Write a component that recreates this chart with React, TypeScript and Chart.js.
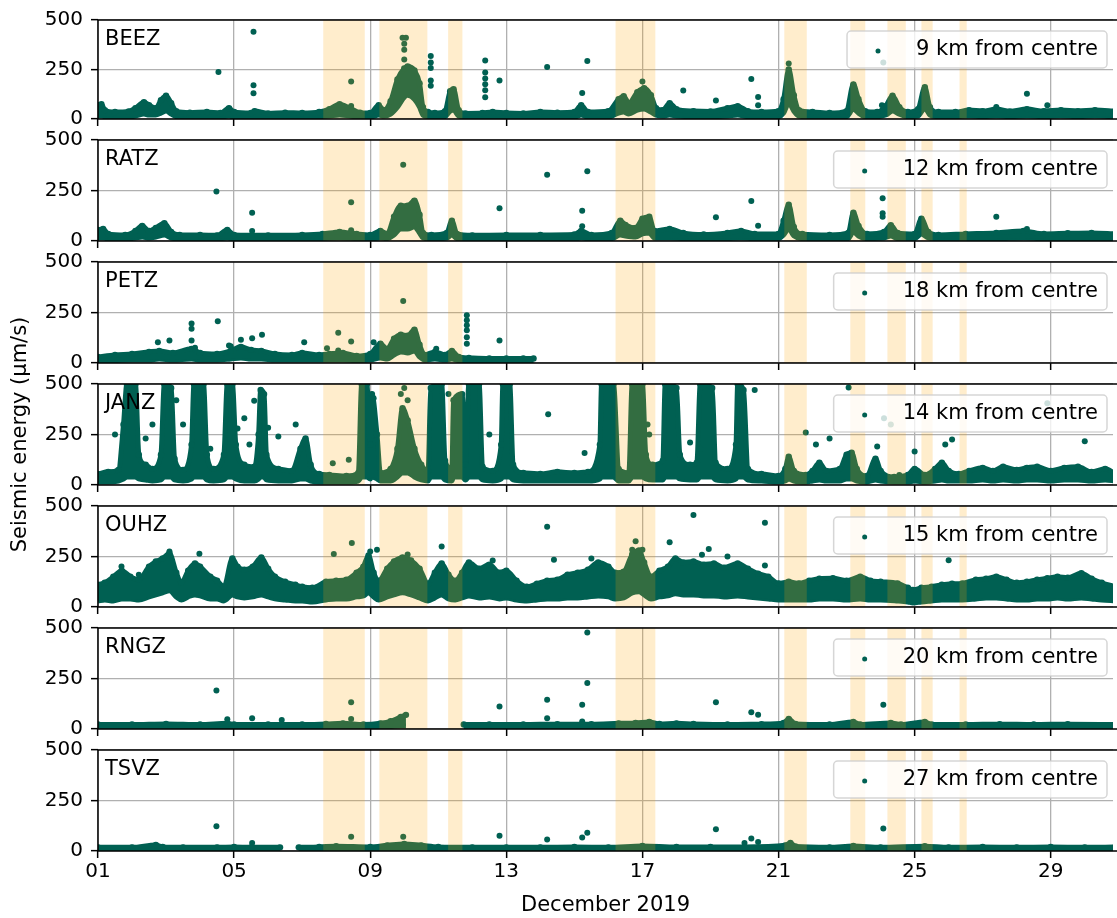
import React, { useEffect, useRef } from 'react';
import { Chart, registerables } from 'chart.js';

Chart.register(...registerables);

// ---------------- data ----------------
const stationNames = ['BEEZ', 'RATZ', 'PETZ', 'JANZ', 'OUHZ', 'RNGZ', 'TSVZ'];
const stationDistances = [
  '9 km from centre',
  '12 km from centre',
  '18 km from centre',
  '14 km from centre',
  '15 km from centre',
  '20 km from centre',
  '27 km from centre',
];
const xTickDays = [1, 5, 9, 13, 17, 21, 25, 29];
const xTickLabels = ['01', '05', '09', '13', '17', '21', '25', '29'];
const yTickValues = [0, 250, 500];
const xAxisTitle = 'December 2019';
const yAxisTitle = 'Seismic energy (µm/s)';

// highlighted periods [startDay, endDay]
const eventSpans: number[][] = [
  [7.62, 8.84], [9.27, 10.68], [11.29, 11.71], [16.21, 17.38], [21.17, 21.83],
  [23.11, 23.55], [24.2, 24.74], [25.2, 25.53], [26.32, 26.53],
];

// dense point cloud envelopes: [day, low, high] ; null marks a data gap
const beezBand: (number | null)[][] = [
  [1.0, 15, 70], [1.1, 15, 75], [1.2, 12, 45], [1.5, 10, 35], [1.9, 10, 38], [2.1, 15, 55], [2.35, 25, 85],
  [2.5, 20, 70], [2.7, 20, 55], [2.85, 30, 95], [3.0, 40, 118], [3.15, 25, 80], [3.3, 12, 40], [3.7, 10, 32],
  [4.2, 10, 35], [4.6, 10, 30], [4.85, 15, 55], [5.0, 10, 35], [5.5, 10, 30], [5.6, 10, 40], [6.0, 10, 28],
  [6.5, 10, 32], [7.0, 10, 30], [7.5, 12, 35], [7.8, 15, 50], [8.1, 20, 75], [8.4, 15, 55], [8.7, 10, 32],
  [9.0, 10, 30], [9.25, 20, 70], [9.4, 15, 45], [9.6, 25, 90], [9.8, 60, 200], [10.0, 110, 255],
  [10.1, 120, 265], [10.3, 100, 245], [10.45, 60, 180], [10.55, 20, 60], [10.7, 12, 35], [10.9, 10, 30],
  [11.2, 12, 40], [11.35, 40, 140], [11.45, 45, 150], [11.6, 15, 45], [11.8, 10, 28], [12.3, 10, 30],
  [12.6, 10, 35], [13.0, 10, 30], [13.5, 10, 28], [14.0, 10, 35], [14.5, 10, 32], [15.0, 10, 35],
  [15.2, 20, 70], [15.4, 10, 35], [16.0, 10, 40], [16.3, 30, 100], [16.45, 35, 115], [16.6, 25, 80],
  [16.85, 45, 135], [17.05, 50, 155], [17.25, 35, 120], [17.4, 20, 55], [17.6, 15, 45], [17.8, 20, 80],
  [18.0, 15, 50], [18.5, 12, 40], [19.0, 12, 38], [19.5, 15, 55], [19.8, 20, 65], [20.1, 12, 40],
  [20.5, 12, 35], [21.0, 12, 40], [21.15, 30, 100], [21.3, 80, 250], [21.45, 40, 120], [21.6, 15, 45],
  [22.0, 10, 35], [22.5, 10, 30], [23.0, 12, 40], [23.2, 50, 175], [23.35, 30, 100], [23.55, 12, 40],
  [23.9, 12, 35], [24.15, 20, 65], [24.35, 40, 118], [24.55, 25, 60], [24.8, 12, 35], [25.1, 15, 50],
  [25.3, 55, 160], [25.45, 20, 60], [25.7, 12, 35], [26.2, 12, 35], [26.6, 15, 45], [27.0, 12, 40],
  [27.4, 15, 50], [27.8, 12, 38], [28.3, 15, 50], [28.8, 12, 40], [29.3, 15, 45], [29.8, 12, 40],
  [30.3, 15, 45], [30.9, 12, 40],
];
const beezPoints: number[][] = [
  [4.54, 238], [5.57, 441], [5.57, 170], [5.57, 130], [8.44, 189], [8.44, 66], [9.95, 410], [10.05, 410],
  [10.0, 380], [10.0, 350], [10.0, 300], [10.78, 318], [10.78, 285], [10.78, 258], [10.78, 194],
  [10.78, 168], [12.38, 296], [12.38, 235], [12.38, 205], [12.38, 175], [12.38, 145], [12.38, 110],
  [12.8, 194], [14.2, 263], [15.23, 131], [15.38, 293], [17.0, 190], [18.2, 144], [19.16, 94], [20.2, 202],
  [20.4, 111], [20.4, 70], [21.3, 280], [24.08, 285], [24.04, 70], [27.4, 61], [28.3, 128], [28.9, 70],
];

const ratzBand: (number | null)[][] = [
  [1.0, 15, 55], [1.15, 15, 60], [1.3, 10, 35], [1.8, 10, 30], [2.1, 15, 50], [2.3, 20, 75], [2.5, 15, 50],
  [2.7, 20, 65], [2.95, 30, 88], [3.15, 15, 45], [3.4, 10, 30], [4.0, 10, 30], [4.5, 10, 28], [4.8, 15, 55],
  [5.0, 10, 30], [6.0, 10, 28], [7.0, 10, 30], [7.6, 12, 35], [8.1, 15, 45], [8.6, 12, 35], [9.0, 10, 30],
  [9.3, 15, 50], [9.5, 12, 35], [9.7, 30, 120], [9.9, 60, 175], [10.1, 60, 175], [10.3, 70, 200],
  [10.45, 40, 130], [10.55, 15, 40], [10.8, 10, 30], [11.25, 15, 40], [11.4, 30, 100], [11.55, 12, 35],
  [12.0, 10, 28], [13.0, 10, 30], [14.0, 10, 30], [15.0, 10, 32], [15.2, 15, 50], [15.5, 10, 30],
  [16.1, 12, 40], [16.35, 30, 100], [16.5, 25, 80], [16.8, 20, 65], [17.0, 35, 110], [17.2, 40, 120],
  [17.35, 15, 50], [17.8, 15, 60], [18.2, 12, 40], [18.8, 10, 32], [19.5, 12, 40], [19.9, 15, 50],
  [20.3, 12, 35], [21.0, 12, 35], [21.15, 30, 100], [21.3, 60, 180], [21.45, 25, 70], [21.7, 12, 35],
  [22.5, 10, 30], [23.05, 12, 40], [23.2, 45, 140], [23.35, 25, 75], [23.6, 12, 35], [24.1, 15, 45],
  [24.3, 25, 78], [24.5, 12, 40], [25.0, 12, 35], [25.2, 35, 110], [25.4, 15, 45], [25.7, 10, 30],
  [26.5, 12, 35], [27.4, 12, 40], [28.2, 15, 50], [28.8, 12, 35], [29.5, 12, 38], [30.2, 12, 40],
  [30.9, 12, 35],
];
const ratzPoints: number[][] = [
  [4.48, 245], [5.53, 140], [5.53, 50], [8.44, 192], [8.44, 53], [9.97, 378], [12.8, 162], [14.2, 328],
  [15.23, 150], [15.23, 73], [15.38, 345], [19.16, 117], [20.2, 198], [20.4, 75], [24.06, 212],
  [24.06, 137], [24.06, 120], [27.4, 120], [28.3, 60],
];

const petzBand: (number | null)[][] = [
  [1.0, 10, 30], [1.5, 12, 40], [2.0, 15, 45], [2.5, 15, 55], [2.8, 20, 60], [3.2, 15, 50], [3.75, 20, 70],
  [4.0, 15, 50], [4.5, 15, 45], [4.9, 20, 60], [5.2, 25, 80], [5.5, 20, 65], [5.8, 20, 60], [6.2, 15, 45],
  [6.7, 15, 40], [7.0, 15, 50], [7.5, 15, 40], [7.8, 15, 45], [8.2, 15, 50], [8.6, 12, 35], [9.0, 15, 45],
  [9.3, 25, 95], [9.5, 20, 70], [9.7, 40, 120], [9.9, 55, 140], [10.1, 50, 135], [10.3, 60, 165],
  [10.45, 30, 90], [10.6, 15, 40], [10.9, 20, 55], [11.2, 15, 40], [11.4, 20, 60], [11.6, 12, 30],
  [11.9, 10, 25], [12.5, 10, 22], [13.0, 10, 22], [13.5, 10, 22], [13.8, 10, 22],
];
const petzPoints: number[][] = [
  [2.76, 103], [3.1, 112], [3.75, 195], [3.75, 170], [3.75, 112], [3.85, 75], [4.52, 207], [4.85, 87],
  [5.2, 115], [5.53, 123], [5.82, 140], [4.9, 83], [7.06, 103], [7.73, 73], [8.06, 150], [8.44, 107],
  [8.06, 62], [9.1, 103], [9.97, 307], [10.94, 70], [11.84, 237], [11.84, 212], [11.84, 187], [11.84, 162],
  [11.84, 128], [11.84, 95], [12.8, 112],
];

const janzBand: (number | null)[][] = [
  [1.0, 15, 55], [1.3, 15, 65], [1.6, 20, 75], [1.75, 30, 300], [1.85, 40, 500], [2.1, 40, 500],
  [2.2, 30, 150], [2.4, 25, 100], [2.6, 20, 80], [2.85, 25, 150], [2.95, 40, 500], [3.15, 40, 480],
  [3.25, 25, 130], [3.5, 20, 75], [3.75, 30, 200], [3.82, 40, 500], [4.1, 40, 500], [4.2, 25, 150],
  [4.4, 20, 80], [4.7, 25, 150], [4.8, 40, 500], [4.95, 40, 500], [5.05, 30, 200], [5.3, 20, 100],
  [5.6, 20, 90], [5.72, 30, 250], [5.78, 40, 470], [5.88, 40, 450], [5.95, 25, 150], [6.3, 20, 80],
  [6.7, 20, 70], [6.95, 30, 180], [7.1, 30, 230], [7.25, 20, 100], [7.5, 15, 55], [7.8, 15, 50],
  [8.3, 15, 45], [8.65, 20, 60], [8.75, 40, 500], [8.9, 40, 500], [9.0, 30, 200], [9.05, 40, 450],
  [9.2, 30, 250], [9.3, 20, 60], [9.6, 20, 80], [9.8, 40, 180], [9.95, 60, 380], [10.1, 60, 320],
  [10.3, 40, 180], [10.5, 25, 100], [10.7, 20, 70], [10.78, 40, 480], [11.1, 40, 500], [11.2, 25, 120],
  [11.4, 20, 80], [11.45, 40, 420], [11.7, 40, 450], [11.8, 25, 100], [11.9, 40, 500], [12.2, 40, 500],
  [12.3, 25, 90], [12.6, 20, 70], [12.85, 30, 200], [12.9, 40, 500], [13.1, 40, 500], [13.2, 25, 100],
  [13.5, 20, 60], [14.0, 20, 55], [14.5, 20, 65], [15.0, 20, 60], [15.4, 20, 65], [15.75, 30, 200],
  [15.8, 40, 500], [16.15, 40, 500], [16.3, 20, 80], [16.6, 20, 60], [16.7, 40, 500], [17.0, 40, 500],
  [17.1, 30, 150], [17.3, 25, 100], [17.6, 25, 120], [17.67, 40, 500], [18.0, 40, 480], [18.1, 30, 150],
  [18.4, 25, 100], [18.6, 25, 110], [18.7, 40, 500], [19.05, 40, 480], [19.15, 25, 110], [19.5, 20, 80],
  [19.75, 30, 200], [19.8, 40, 500], [19.97, 40, 470], [20.1, 25, 80], [20.5, 20, 55], [21.0, 15, 45],
  [21.2, 20, 80], [21.3, 30, 140], [21.45, 20, 70], [21.8, 15, 50], [22.0, 20, 70], [22.2, 25, 110],
  [22.4, 20, 70], [22.8, 20, 80], [23.0, 30, 150], [23.15, 30, 160], [23.3, 20, 80], [23.6, 15, 45],
  [23.85, 25, 130], [24.0, 20, 70], [24.4, 15, 40], [24.8, 15, 50], [25.0, 20, 80], [25.3, 15, 50],
  [25.6, 20, 80], [25.8, 25, 110], [26.0, 20, 70], [26.3, 20, 55], [26.6, 20, 70], [27.0, 25, 85],
  [27.3, 20, 70], [27.6, 25, 90], [28.0, 20, 75], [28.3, 25, 85], [28.6, 25, 90], [29.0, 20, 70],
  [29.4, 25, 85], [29.8, 25, 90], [30.2, 20, 65], [30.6, 25, 80], [30.9, 20, 55],
];
const janzPoints: number[][] = [
  [1.5, 250], [2.4, 230], [2.6, 300], [3.3, 420], [3.5, 300], [4.3, 180], [5.1, 280], [5.3, 330],
  [5.59, 417], [5.45, 200], [6.0, 283], [6.3, 240], [6.81, 300], [7.9, 108], [8.37, 125], [8.7, 110],
  [9.1, 430], [9.9, 450], [10.0, 480], [10.1, 420], [11.3, 450], [12.5, 250], [14.23, 350], [15.3, 158],
  [17.15, 300], [17.2, 250], [18.4, 210], [18.7, 180], [20.3, 470], [21.8, 260], [22.1, 200], [22.5, 230],
  [23.06, 483], [23.9, 190], [24.1, 330], [24.3, 300], [24.55, 50], [25.0, 166], [25.9, 200], [26.1, 225],
  [28.9, 405], [30.0, 216],
];

const ouhzBand: (number | null)[][] = [
  [1.0, 30, 110], [1.2, 35, 120], [1.45, 30, 150], [1.7, 40, 180], [1.95, 40, 150], [2.2, 35, 135],
  [2.5, 50, 200], [2.7, 60, 225], [2.9, 70, 240], [3.1, 80, 265], [3.3, 50, 170], [3.45, 35, 120],
  [3.65, 50, 180], [3.85, 60, 215], [4.0, 55, 200], [4.3, 40, 150], [4.5, 40, 130], [4.7, 30, 100],
  [4.95, 60, 240], [5.1, 50, 200], [5.3, 45, 185], [5.55, 50, 200], [5.8, 60, 245], [6.0, 50, 190],
  [6.2, 40, 150], [6.5, 35, 125], [6.8, 30, 110], [7.0, 30, 100], [7.3, 25, 95], [7.7, 35, 125],
  [8.0, 40, 130], [8.3, 40, 135], [8.6, 50, 170], [8.8, 55, 200], [8.95, 70, 255], [9.1, 50, 170],
  [9.25, 35, 130], [9.5, 50, 190], [9.7, 60, 225], [9.95, 70, 245], [10.2, 60, 230], [10.45, 45, 190],
  [10.7, 30, 115], [10.9, 45, 170], [11.1, 60, 215], [11.3, 40, 160], [11.5, 35, 130], [11.7, 45, 170],
  [11.9, 55, 220], [12.2, 45, 190], [12.5, 50, 210], [12.8, 40, 170], [13.0, 45, 180], [13.3, 35, 130],
  [13.6, 30, 100], [13.9, 35, 115], [14.2, 40, 130], [14.5, 40, 135], [14.8, 45, 160], [15.1, 45, 170],
  [15.4, 50, 185], [15.7, 55, 220], [16.0, 50, 200], [16.2, 40, 170], [16.45, 45, 175], [16.7, 70, 260],
  [16.9, 75, 280], [17.05, 60, 220], [17.25, 40, 150], [17.5, 50, 180], [17.75, 55, 200], [17.97, 65, 240],
  [18.2, 60, 220], [18.5, 60, 225], [18.8, 55, 210], [19.1, 55, 215], [19.4, 50, 195], [19.8, 55, 215],
  [20.1, 50, 190], [20.4, 45, 165], [20.7, 40, 150], [21.0, 35, 117], [21.3, 35, 125], [21.6, 35, 117],
  [21.9, 35, 130], [22.2, 40, 140], [22.6, 40, 142], [23.0, 35, 130], [23.4, 40, 150], [23.7, 35, 130],
  [24.0, 35, 125], [24.5, 30, 117], [24.8, 25, 95], [24.95, 20, 84], [25.2, 25, 95], [25.5, 30, 100],
  [25.8, 35, 110], [26.1, 35, 115], [26.4, 35, 117], [26.8, 40, 135], [27.1, 45, 140], [27.4, 45, 150],
  [27.7, 40, 135], [28.0, 35, 120], [28.3, 35, 125], [28.6, 40, 135], [28.9, 40, 142], [29.2, 45, 150],
  [29.5, 40, 145], [29.9, 45, 167], [30.2, 40, 140], [30.5, 35, 120], [30.9, 30, 100],
];
const ouhzPoints: number[][] = [
  [1.69, 200], [2.2, 160], [3.98, 264], [3.1, 275], [7.93, 262], [8.46, 317], [9.0, 275], [9.2, 283],
  [10.1, 260], [11.1, 300], [12.6, 230], [14.2, 397], [14.4, 234], [15.5, 240], [16.8, 325], [16.7, 284],
  [17.0, 284], [17.8, 321], [18.5, 456], [18.75, 259], [18.95, 287], [19.5, 250], [20.6, 417], [20.6, 206],
  [26.0, 231],
];

const rngzBand: (number | null)[][] = [
  [1.0, 8, 22], [2.0, 8, 22], [3.0, 8, 25], [4.0, 8, 22], [4.8, 8, 28], [5.0, 8, 22], [6.0, 8, 22],
  [7.0, 8, 22], [7.7, 8, 25], [8.2, 10, 28], [8.8, 8, 22], [9.3, 10, 28], [9.6, 12, 38], [9.9, 15, 60],
  [10.05, 15, 70], [10.1, null, null], [11.75, 8, 22], [12.5, 8, 22], [13.5, 8, 22], [14.5, 8, 24],
  [15.5, 8, 24], [16.3, 10, 28], [16.8, 10, 30], [17.2, 10, 35], [17.5, 8, 25], [18.0, 10, 28],
  [18.5, 8, 25], [19.5, 8, 22], [20.5, 8, 24], [21.15, 10, 30], [21.3, 15, 50], [21.5, 10, 25],
  [22.5, 8, 22], [23.2, 10, 35], [23.4, 8, 22], [24.3, 10, 30], [24.6, 8, 22], [25.3, 10, 35],
  [25.5, 8, 22], [26.5, 8, 22], [27.5, 8, 24], [28.5, 8, 22], [29.5, 8, 24], [30.9, 8, 22],
];
const rngzPoints: number[][] = [
  [4.48, 190], [4.8, 48], [5.53, 53], [6.4, 45], [8.44, 133], [8.44, 50], [12.8, 112], [14.2, 145],
  [14.2, 53], [15.23, 120], [15.38, 478], [15.38, 228], [15.23, 37], [19.16, 132], [20.2, 83], [20.4, 70],
  [24.08, 120],
];

const tsvzBand: (number | null)[][] = [
  [1.0, 6, 18], [2.0, 6, 18], [2.7, 8, 30], [2.9, 6, 20], [3.5, 6, 18], [4.5, 6, 18], [5.0, 6, 20],
  [5.5, 6, 18], [6.35, 6, 18], [6.4, null, null], [6.9, 6, 18], [7.5, 6, 20], [8.0, 8, 24], [9.0, 6, 20],
  [9.5, 8, 28], [10.0, 10, 35], [10.5, 8, 28], [11.0, 6, 20], [12.0, 6, 18], [13.0, 6, 18], [14.0, 6, 18],
  [15.0, 6, 20], [16.0, 6, 18], [17.0, 8, 25], [18.0, 6, 20], [19.0, 6, 20], [20.0, 6, 20], [21.2, 8, 28],
  [21.35, 10, 40], [21.5, 8, 22], [22.5, 6, 18], [23.2, 8, 25], [24.0, 6, 18], [25.3, 8, 24], [26.0, 6, 18],
  [27.0, 6, 20], [28.0, 6, 18], [29.0, 6, 20], [30.0, 6, 18], [30.9, 6, 20],
];
const tsvzPoints: number[][] = [
  [4.48, 123], [5.53, 40], [8.44, 70], [9.97, 70], [12.8, 75], [14.2, 57], [15.23, 67], [15.38, 90],
  [19.16, 108], [20.0, 40], [20.2, 62], [20.4, 45], [24.08, 112],
];

const stationBands = [beezBand, ratzBand, petzBand, janzBand, ouhzBand, rngzBand, tsvzBand];
const stationPoints = [beezPoints, ratzPoints, petzPoints, janzPoints, ouhzPoints, rngzPoints, tsvzPoints];

// ---------------- styling ----------------
const W = 1117;
const H = 918;
const TEAL = 'rgb(0,96,82)';
const SPAN = 'rgba(255,165,0,0.2)';
const FONT = "'DejaVu Sans', 'Liberation Sans', sans-serif";
const X_MIN = 1;
const X_MAX = 30.83;
const PANEL_TOP0 = 18;
const PANEL_STEP = 122;
const PANEL_H = 101;
const AXIS_LEFT = 98;
const X_AXIS_H = 40;

function splitSegments(rows: (number | null)[][]) {
  const segs: (number | null)[][][] = [];
  let cur: (number | null)[][] = [];
  rows.forEach((r) => {
    if (r[1] === null) {
      if (cur.length) segs.push(cur);
      cur = [];
    } else cur.push(r);
  });
  if (cur.length) segs.push(cur);
  return segs;
}

function Panel({ index }: { index: number }) {
  const ref = useRef<HTMLCanvasElement>(null);
  useEffect(() => {
    const canvas = ref.current;
    if (!canvas) return;
    const top = PANEL_TOP0 + PANEL_STEP * index;
    const bottom = top + PANEL_H;
    const last = index === stationNames.length - 1;
    const axisH = last ? X_AXIS_H : 0;
    const datasets: any[] = [];
    datasets.push({
      type: 'scatter',
      data: stationPoints[index].map((p) => ({ x: p[0], y: p[1] })),
      backgroundColor: TEAL,
      borderWidth: 0,
      pointRadius: 3,
      clip: 0,
    });
    splitSegments(stationBands[index]).forEach((seg) => {
      datasets.push({
        type: 'line',
        data: seg.map((r) => ({ x: r[0], y: r[2] })),
        borderColor: TEAL,
        backgroundColor: TEAL,
        borderWidth: 5,
        pointRadius: 3.2,
        pointBorderWidth: 0,
        pointBackgroundColor: TEAL,
        cubicInterpolationMode: 'monotone',
        fill: '+1',
        clip: 0,
      });
      datasets.push({
        type: 'line',
        data: seg.map((r) => ({ x: r[0], y: r[1] })),
        borderColor: TEAL,
        backgroundColor: TEAL,
        borderWidth: 5,
        pointRadius: 0,
        cubicInterpolationMode: 'monotone',
        fill: false,
        clip: 0,
      });
    });

    const decor = {
      id: 'decor' + index,
      afterDatasetsDraw(chart: any) {
        const { ctx, chartArea: ca, scales } = chart;
        ctx.save();
        ctx.fillStyle = SPAN;
        eventSpans.forEach(([a, b]) => {
          const x0 = scales.x.getPixelForValue(a);
          const x1 = scales.x.getPixelForValue(b);
          ctx.fillRect(x0, ca.top, x1 - x0, ca.bottom - ca.top);
        });
        ctx.restore();
      },
      afterDraw(chart: any) {
        const { ctx, chartArea: ca } = chart;
        ctx.save();
        // frame
        ctx.strokeStyle = '#000';
        ctx.lineWidth = 1.5;
        ctx.beginPath();
        ctx.moveTo(W, ca.top);
        ctx.lineTo(ca.left, ca.top);
        ctx.lineTo(ca.left, ca.bottom);
        ctx.lineTo(W, ca.bottom);
        ctx.stroke();
        // station label
        ctx.fillStyle = '#000';
        ctx.font = `21px ${FONT}`;
        ctx.textAlign = 'left';
        ctx.textBaseline = 'alphabetic';
        ctx.fillText(stationNames[index], ca.left + 7, ca.top + 25);
        // legend
        const txt = stationDistances[index];
        const tw = ctx.measureText(txt).width;
        const textRight = ca.right - 15;
        const textLeft = textRight - tw;
        const boxLeft = textLeft - 69;
        const boxRight = ca.right - 6;
        const boxTop = ca.top + 11;
        const boxH = 37;
        ctx.beginPath();
        ctx.roundRect(boxLeft, boxTop, boxRight - boxLeft, boxH, 4);
        ctx.fillStyle = 'rgba(255,255,255,0.8)';
        ctx.fill();
        ctx.strokeStyle = 'rgba(204,204,204,0.8)';
        ctx.lineWidth = 1.5;
        ctx.stroke();
        ctx.fillStyle = TEAL;
        ctx.beginPath();
        ctx.arc(textLeft - 38, ca.top + 31, 2.5, 0, Math.PI * 2);
        ctx.fill();
        ctx.fillStyle = '#000';
        ctx.textBaseline = 'middle';
        ctx.fillText(txt, textLeft, ca.top + 30);
        // overall axis titles
        if (index === 0) {
          ctx.save();
          ctx.translate(21, (PANEL_TOP0 + PANEL_TOP0 + PANEL_STEP * 6 + PANEL_H) / 2);
          ctx.rotate(-Math.PI / 2);
          ctx.textAlign = 'center';
          ctx.textBaseline = 'middle';
          ctx.font = `21px ${FONT}`;
          ctx.fillText(yAxisTitle, 0, 0);
          ctx.restore();
        }
        if (last) {
          ctx.textAlign = 'center';
          ctx.textBaseline = 'alphabetic';
          ctx.font = `21px ${FONT}`;
          ctx.fillText(xAxisTitle, (ca.left + ca.right) / 2, 911);
        }
        ctx.restore();
      },
    };

    const chart = new Chart(canvas, {
      type: 'line',
      data: { datasets },
      plugins: [decor],
      options: {
        animation: false,
        responsive: false,
        maintainAspectRatio: false,
        events: [],
        layout: { padding: { left: 0, right: 0, top, bottom: H - bottom - axisH } },
        plugins: { legend: { display: false }, tooltip: { enabled: false } },
        scales: {
          x: {
            type: 'linear',
            min: X_MIN,
            max: X_MAX,
            z: 1,
            afterFit: (s: any) => {
              s.height = axisH;
            },
            afterBuildTicks: (s: any) => {
              s.ticks = xTickDays.map((v) => ({ value: v }));
            },
            grid: {
              color: '#b0b0b0',
              lineWidth: 1.3,
              drawTicks: true,
              tickLength: 7,
              tickColor: '#000',
              tickWidth: 1.5,
            },
            border: { display: false },
            ticks: {
              display: last,
              autoSkip: false,
              maxRotation: 0,
              padding: 2,
              color: '#000',
              font: { family: FONT, size: 20 },
              callback: (v: any) => {
                const i = xTickDays.indexOf(Number(v));
                return i >= 0 ? xTickLabels[i] : '';
              },
            },
          },
          y: {
            type: 'linear',
            min: 0,
            max: 500,
            z: 1,
            afterFit: (s: any) => {
              s.width = AXIS_LEFT;
            },
            afterBuildTicks: (s: any) => {
              s.ticks = yTickValues.map((v) => ({ value: v }));
            },
            grid: {
              color: '#b0b0b0',
              lineWidth: 1.3,
              drawTicks: true,
              tickLength: 7,
              tickColor: '#000',
              tickWidth: 1.5,
            },
            border: { display: false },
            ticks: {
              padding: 8,
              color: '#000',
              font: { family: FONT, size: 20 },
            },
          },
        },
      } as any,
    });
    return () => chart.destroy();
  }, [index]);
  return (
    <canvas
      ref={ref}
      width={W}
      height={H}
      style={{ position: 'absolute', left: 0, top: 0, width: W, height: H }}
    />
  );
}

export default function App() {
  return (
    <div style={{ position: 'absolute', left: 0, top: 0, width: W, height: H, background: '#fff', overflow: 'hidden' }}>
      {stationNames.map((_, i) => (
        <Panel key={i} index={i} />
      ))}
    </div>
  );
}
